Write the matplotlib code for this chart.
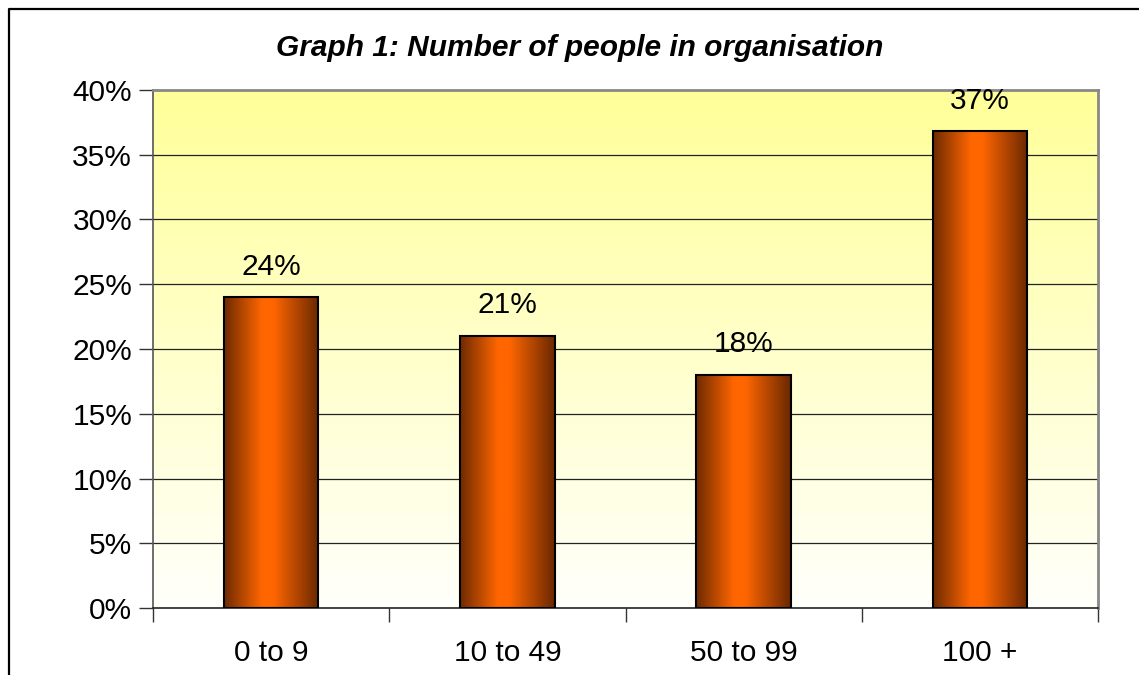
import matplotlib
matplotlib.use("Agg")
import matplotlib.pyplot as plt
import numpy as np
from matplotlib.colors import LinearSegmentedColormap
from matplotlib.lines import Line2D

categories = ["0 to 9", "10 to 49", "50 to 99", "100 +"]
values = [24, 21, 18, 36.8]
yticks = [0, 5, 10, 15, 20, 25, 30, 35, 40]
title = "Graph 1: Number of people in organisation"

plt.rcParams['font.family'] = ['Liberation Sans', 'DejaVu Sans']

W, H = 1139, 675
fig = plt.figure(figsize=(W / 100, H / 100), dpi=100)
fig.patch.set_facecolor('white')
ax = fig.add_axes([153 / W, 1 - 608 / H, (1098 - 153) / W, (608 - 90) / H])

# background gradient (yellow top -> near white bottom)
bg_cmap = LinearSegmentedColormap.from_list('bg', ['#FFFFFB', '#FFFF99'])
grad = np.linspace(0, 1, 256).reshape(-1, 1)
ax.imshow(grad, extent=[0, 1, 0, 1], transform=ax.transAxes, cmap=bg_cmap,
          origin='lower', aspect='auto', zorder=0, interpolation='bicubic')

ax.set_xlim(-0.5, 3.5)
ax.set_ylim(0, 40)

# gridlines
for t in yticks[1:-1]:
    ax.axhline(t, color='#222222', lw=0.9, zorder=1)

bar_cmap = LinearSegmentedColormap.from_list(
    'bar', [(0, '#6E2A00'), (0.4, '#FF6600'), (0.52, '#FF6600'), (1, '#6A2800')])
hgrad = np.linspace(0, 1, 256).reshape(1, -1)
width = 0.4
bars = ax.bar(range(len(categories)), values, width=width, color='none',
              edgecolor='black', linewidth=1.5, zorder=3)
for b, v in zip(bars, values):
    x0 = b.get_x()
    im = ax.imshow(hgrad, extent=[x0, x0 + width, 0, v], cmap=bar_cmap,
                   aspect='auto', zorder=2, interpolation='bicubic')
    im.set_clip_path(b)
    ax.annotate(f"{v:.0f}%", (b.get_x() + width / 2, v), xytext=(0, 12),
                textcoords='offset points', ha='center', va='bottom',
                fontsize=21.5, color='black', zorder=4)

ax.set_xlim(-0.5, 3.5)
ax.set_ylim(0, 40)

ax.set_yticks(yticks)
ax.set_yticklabels([f"{t}%" for t in yticks])
ax.set_xticks(range(len(categories)))
ax.set_xticklabels(categories)
ax.set_xticks([-0.5, 0.5, 1.5, 2.5, 3.5], minor=True)
ax.tick_params(axis='x', which='major', length=0, pad=22, labelsize=21.5)
ax.tick_params(axis='x', which='minor', length=10, width=1, color='#333333')
ax.tick_params(axis='y', length=10, width=1, color='#333333', labelsize=21.5, pad=5)

for s in ['top', 'right']:
    ax.spines[s].set_color('#888888')
    ax.spines[s].set_linewidth(2)
ax.spines['left'].set_color('#555555')
ax.spines['left'].set_linewidth(1.2)
ax.spines['bottom'].set_color('#222222')
ax.spines['bottom'].set_linewidth(1.2)

fig.text(580 / W, 1 - 48 / H, title, ha='center', va='center',
         fontsize=21.5, fontweight='bold', fontstyle='italic')

# outer chart border (left and top visible)
fig.add_artist(Line2D([8.5 / W, 8.5 / W, 1.01], [-0.01, 1 - 8.5 / H, 1 - 8.5 / H],
                      transform=fig.transFigure, color='black', lw=1.6))

fig.savefig('out.png', dpi=100)
